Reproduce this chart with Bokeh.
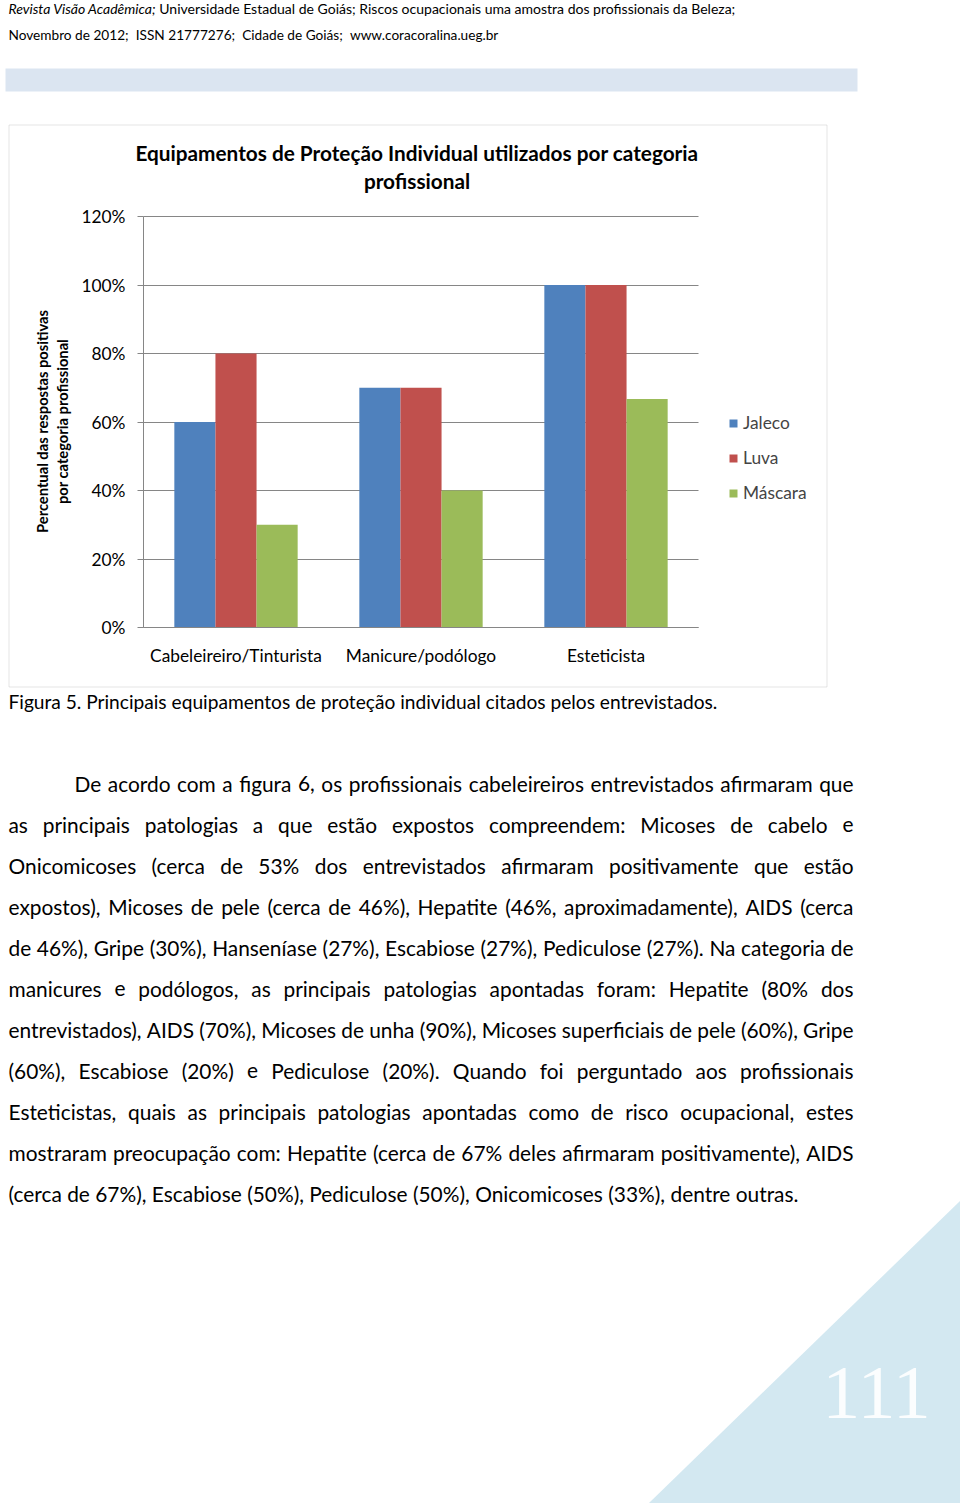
import math
import os
import subprocess

from bokeh.plotting import figure
from bokeh.models import (ColumnDataSource, Range1d, Label, BoxAnnotation, LinearAxis, Grid,
                          PolyAnnotation, Legend, LegendItem, NumeralTickFormatter, FixedTicker)
from bokeh.transform import dodge
from bokeh.embed import file_html
from bokeh.resources import INLINE

# ---------------- data ----------------
categories = ["Cabeleireiro/Tinturista", "Manicure/podólogo", "Esteticista"]
series = ["Jaleco", "Luva", "Máscara"]
jaleco = [0.60, 0.70, 1.00]
luva = [0.80, 0.70, 1.00]
mascara = [0.30, 0.40, 0.667]
y_ticks = [0.0, 0.2, 0.4, 0.6, 0.8, 1.0, 1.2]
colors = ["#4f81bd", "#c0504d", "#9bbb59"]

chart_title = ["Equipamentos de Proteção Individual utilizados por categoria", "profissional"]
y_title = ["Percentual das respostas positivas", "por categoria profissional"]
header_italic = "Revista Visão Acadêmica;"
header_rest = "Universidade Estadual de Goiás; Riscos ocupacionais uma amostra dos profissionais da Beleza;"
header_line2 = ["Novembro de 2012;", "ISSN 21777276;", "Cidade de Goiás;", "www.coracoralina.ueg.br"]
caption = "Figura 5. Principais equipamentos de proteção individual citados pelos entrevistados."
paragraph = [
    "De acordo com a figura 6, os profissionais cabeleireiros entrevistados afirmaram que",
    "as principais patologias a que estão expostos compreendem: Micoses de cabelo e",
    "Onicomicoses (cerca de 53% dos entrevistados afirmaram positivamente que estão",
    "expostos), Micoses de pele (cerca de 46%), Hepatite (46%, aproximadamente), AIDS (cerca",
    "de 46%), Gripe (30%), Hanseníase (27%), Escabiose (27%), Pediculose (27%). Na categoria de",
    "manicures e podólogos, as principais patologias apontadas foram: Hepatite (80% dos",
    "entrevistados), AIDS (70%), Micoses de unha (90%), Micoses superficiais de pele (60%), Gripe",
    "(60%), Escabiose (20%) e Pediculose (20%). Quando foi perguntado aos profissionais",
    "Esteticistas, quais as principais patologias apontadas como de risco ocupacional, estes",
    "mostraram preocupação com: Hepatite (cerca de 67% deles afirmaram positivamente), AIDS",
    "(cerca de 67%), Escabiose (50%), Pediculose (50%), Onicomicoses (33%), dentre outras.",
]
page_number = "111"

# ---------------- page geometry (page pixels) ----------------
PAGE_W, PAGE_H = 960, 1503
FRAME_L, FRAME_R, FRAME_T, FRAME_B = 143, 698, 216, 627
FONT = "Lato"
GRAY = "#868686"


# ---------------- font measuring ----------------
def find_font(pattern):
    try:
        r = subprocess.run(["fc-match", "-f", "%{file}", pattern],
                           capture_output=True, text=True, timeout=10)
        path = r.stdout.strip()
        if path and os.path.exists(path):
            return path
    except Exception:
        pass
    return None


def make_measure(pattern):
    path = find_font(pattern)
    try:
        from PIL import ImageFont
        f = ImageFont.truetype(path, 200)
        return lambda s, size: f.getlength(s) * size / 200.0
    except Exception:
        return lambda s, size: len(s) * 0.5 * size


m_reg = make_measure("Lato:style=Regular")
m_bold = make_measure("Lato:style=Bold")
m_ital = make_measure("Lato:style=Italic")


def fit(measure, text, width):
    return width / measure(text, 1.0)


body_size = fit(m_reg, paragraph[-1], 790)
caption_size = fit(m_reg, caption, 709)
title_size = fit(m_bold, chart_title[0], 563)
ytitle_size = fit(m_bold, y_title[0], 223)
tick_size = fit(m_reg, categories[0], 172)
header_size = 727 / (m_ital(header_italic, 1.0) + m_reg(" " + header_rest, 1.0))
header2_size = 490 / (sum(m_reg(t, 1.0) for t in header_line2)
                      + 2 * (len(header_line2) - 1) * m_reg(" ", 1.0))

# ---------------- figure: frame = whole page, default ranges in page pixels ----------------
n_cat = len(categories)
cat_x = [i + 0.5 for i in range(n_cat)]
y_max = y_ticks[-1]

p = figure(width=PAGE_W, height=PAGE_H,
           x_range=Range1d(0, PAGE_W), y_range=Range1d(PAGE_H, 0),
           output_backend="svg", toolbar_location=None,
           min_border=0, x_axis_type=None, y_axis_type=None)
p.grid.visible = False
p.outline_line_color = None
p.background_fill_color = "white"
p.border_fill_color = "white"

# chart ranges: category units across the plot area, value units down the plot area
ux = (FRAME_R - FRAME_L) / n_cat
uy = (FRAME_B - FRAME_T) / y_max
p.extra_x_ranges = {"cx": Range1d(-FRAME_L / ux, (PAGE_W - FRAME_L) / ux)}
p.extra_y_ranges = {"cy": Range1d((FRAME_B - PAGE_H) / uy, FRAME_B / uy)}

# y grid lines (limited to the plot area)
try:
    grid = Grid(dimension=1, ticker=FixedTicker(ticks=y_ticks), x_range_name="cx",
                y_range_name="cy", cross_bounds=(0, n_cat), grid_line_color=GRAY)
    p.add_layout(grid)
except Exception:
    p.segment(x0=0, x1=n_cat, y0=y_ticks, y1=y_ticks, x_range_name="cx", y_range_name="cy",
              line_color=GRAY, line_width=1)

source = ColumnDataSource(dict(x=cat_x, cat=categories, Jaleco=jaleco, Luva=luva, Mascara=mascara))
bw = 1.0 / 4.5
renderers = []
for i, (key, col) in enumerate(zip(["Jaleco", "Luva", "Mascara"], colors)):
    r = p.vbar(x=dodge("x", (i - 1) * bw), top=key, width=bw, source=source,
               fill_color=col, line_color=None, x_range_name="cx", y_range_name="cy")
    renderers.append(r)

# axes drawn at fixed positions inside the page
yaxis = LinearAxis(x_range_name="cx", y_range_name="cy", fixed_location=0, bounds=(0, y_max),
                   ticker=FixedTicker(ticks=y_ticks), formatter=NumeralTickFormatter(format="0%"),
                   axis_line_color=GRAY, major_tick_line_color=GRAY, major_tick_out=6,
                   major_tick_in=0, minor_tick_line_color=None, major_label_standoff=12,
                   major_label_text_font=FONT, major_label_text_font_size=f"{tick_size:.2f}px",
                   major_label_text_color="#000000")
p.add_layout(yaxis, "left")
xaxis = LinearAxis(x_range_name="cx", y_range_name="cy", fixed_location=0, bounds=(0, n_cat),
                   ticker=FixedTicker(ticks=cat_x),
                   major_label_overrides={x: c for x, c in zip(cat_x, categories)},
                   axis_line_color=GRAY, major_tick_line_color=None, minor_tick_line_color=None,
                   major_label_standoff=11, major_label_text_font=FONT,
                   major_label_text_font_size=f"{tick_size:.2f}px",
                   major_label_text_color="#000000")
p.add_layout(xaxis, "below")

# legend
legend = Legend(items=[LegendItem(label=s, renderers=[r]) for s, r in zip(series, renderers)],
                location=(728, PAGE_H - 503),
                border_line_color=None, background_fill_alpha=0,
                label_text_font=FONT, label_text_font_size=f"{tick_size:.2f}px",
                glyph_width=10, glyph_height=10, label_standoff=5, spacing=14,
                padding=0, margin=0, label_height=20)
p.add_layout(legend)


# ---------------- page decorations ----------------
def lab(text, x, y, size, font=FONT, style="normal", align="left", baseline="middle",
        color="#000000", angle=0.0, alpha=1.0):
    p.add_layout(Label(x=x, y=y, text=text,
                       text_font=font, text_font_size=f"{size:.2f}px", text_font_style=style,
                       text_align=align, text_baseline=baseline, text_color=color,
                       text_alpha=alpha, angle=angle))


# header bar and chart border
p.add_layout(BoxAnnotation(left=5, right=857, top=68, bottom=91,
                           fill_color="#dbe5f1", fill_alpha=1,
                           line_color=None, level="underlay"))
p.add_layout(BoxAnnotation(left=8.5, right=826.5, top=124.5, bottom=686.5,
                           fill_alpha=0, line_color="#a6a6a6",
                           line_width=1, level="underlay"))
# decorative triangle
p.add_layout(PolyAnnotation(xs=[960, 960, 648], ys=[1200, 1503, 1503],
                            fill_color="#d3e8f1", fill_alpha=1,
                            line_color=None, level="underlay"))

# header text (y values are text centres)
space_h = m_reg(" ", header_size)
lab(header_italic, 8, 8, header_size, style="italic")
lab(header_rest, 8 + m_ital(header_italic, header_size) + space_h, 8, header_size)
space_h2 = m_reg(" ", header2_size)
hx = 8
for txt in header_line2:
    lab(txt, hx, 34, header2_size)
    hx += m_reg(txt, header2_size) + 2 * space_h2

# chart title and y title
lab(chart_title[0], 416.5, 152, title_size, style="bold", align="center")
lab(chart_title[1], 416.5, 180, title_size, style="bold", align="center")
lab(y_title[0], 41, 421, ytitle_size, style="bold", align="center", angle=math.pi / 2)
lab(y_title[1], 61, 421, ytitle_size, style="bold", align="center", angle=math.pi / 2)

# caption
lab(caption, 8, 701, caption_size)

# justified paragraph
RIGHT = 853
for i, line in enumerate(paragraph):
    y = 783 + 41 * i
    x0 = 74 if i == 0 else 8
    words = line.split(" ")
    widths = [m_reg(w, body_size) for w in words]
    if i == len(paragraph) - 1:
        gap = m_reg(" ", body_size)
    else:
        gap = (RIGHT - x0 - sum(widths)) / (len(words) - 1)
    x = x0
    for w, wd in zip(words, widths):
        lab(w, x, y, body_size)
        x += wd + gap

# page number
lab(page_number, 876, 1392, 76, font="Liberation Serif", align="center", color="#ffffff",
    alpha=0.9)

open("out.html", "w").write(file_html(p, INLINE))
